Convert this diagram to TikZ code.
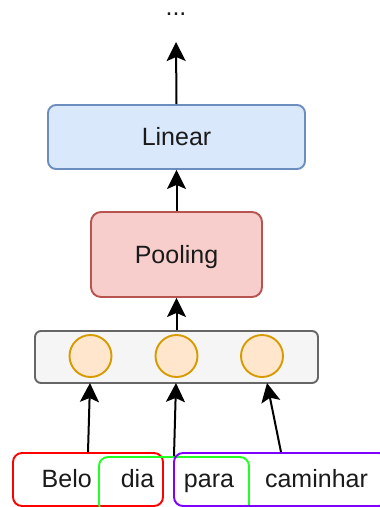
\documentclass[tikz,border=0pt]{standalone}
\usepackage{fontspec}
\setmainfont{Liberation Sans}
\usetikzlibrary{arrows.meta}
\definecolor{linfill}{HTML}{DAE8FC}
\definecolor{linline}{HTML}{6C8EBF}
\definecolor{poolfill}{HTML}{F8CECC}
\definecolor{poolline}{HTML}{B85450}
\definecolor{contfill}{HTML}{F5F5F5}
\definecolor{contline}{HTML}{666666}
\definecolor{cellfill}{HTML}{FFE6CC}
\definecolor{cellline}{HTML}{D79B00}
\definecolor{wred}{HTML}{FF0000}
\definecolor{wgreen}{HTML}{22FF22}
\definecolor{wpurple}{HTML}{7F00FF}
\definecolor{txt}{HTML}{1A1A1A}
\tikzset{
  layerbox/.style={draw, line width=1.9pt, inner sep=0pt},
  cell/.style={circle, draw=cellline, fill=cellfill, line width=1.9pt, minimum size=42pt, inner sep=0pt},
  wordbox/.style={draw, line width=1.9pt, rounded corners=9pt, inner sep=0pt},
  lbl/.style={anchor=base, inner sep=0pt, text=txt, font=\fontsize{25}{29}\selectfont},
  flow/.style={draw=black, line width=2pt, -{Stealth[length=19pt, width=19pt, inset=4pt]}},
}
\begin{document}
\begin{tikzpicture}[x=1pt, y=-1pt]
\useasboundingbox (0,0) rectangle (380,507);

% output dots
\node[lbl] (dots) at (176,15.5) {...};
\coordinate (top) at (176,42);

% linear layer
\node[layerbox, draw=linline, fill=linfill, rounded corners=8pt,
      minimum width=257pt, minimum height=64pt] (lin) at (176.5,137) {};
\node[lbl] (lintxt) at (176.5,145.5) {Linear};

% pooling layer
\node[layerbox, draw=poolline, fill=poolfill, rounded corners=10pt,
      minimum width=171pt, minimum height=85pt] (pool) at (176.5,254.5) {};
\node[lbl] (pooltxt) at (176.5,263) {Pooling};

% token embedding container
\node[layerbox, draw=contline, fill=contfill, rounded corners=6pt,
      minimum width=283pt, minimum height=52pt] (cont) at (176.5,357) {};
\node[cell] (c1) at (90.5,356) {};
\node[cell] (c2) at (176.5,356) {};
\node[cell] (c3) at (262,356) {};

% word groups
\node[wordbox, draw=wred, minimum width=150pt, minimum height=53pt] (wa) at (88,479.5) {};
\node[wordbox, draw=wgreen, minimum width=150pt, minimum height=56pt] (wb) at (174,485) {};
\node[wordbox, draw=wpurple, minimum width=214pt, minimum height=53pt] (wc) at (281,479.5) {};
\node[lbl] (t1) at (66.7,487) {Belo};
\node[lbl] (t2) at (137.5,487) {dia};
\node[lbl] (t3) at (209,487) {para};
\node[lbl] (t4) at (316.5,487) {caminhar};

% connectors
\coordinate (e1) at (90,383);
\coordinate (e2) at (176,383);
\coordinate (e3) at (267,383);
\draw[flow] (wa.north) -- (e1);
\draw[flow] (wb.north) -- (e2);
\draw[flow] (wc.north) -- (e3);
\draw[flow] (cont.north) -- (pool.south);
\draw[flow] (pool.north) -- (lin.south);
\draw[flow] (lin.north) -- (top);
\end{tikzpicture}
\end{document}
